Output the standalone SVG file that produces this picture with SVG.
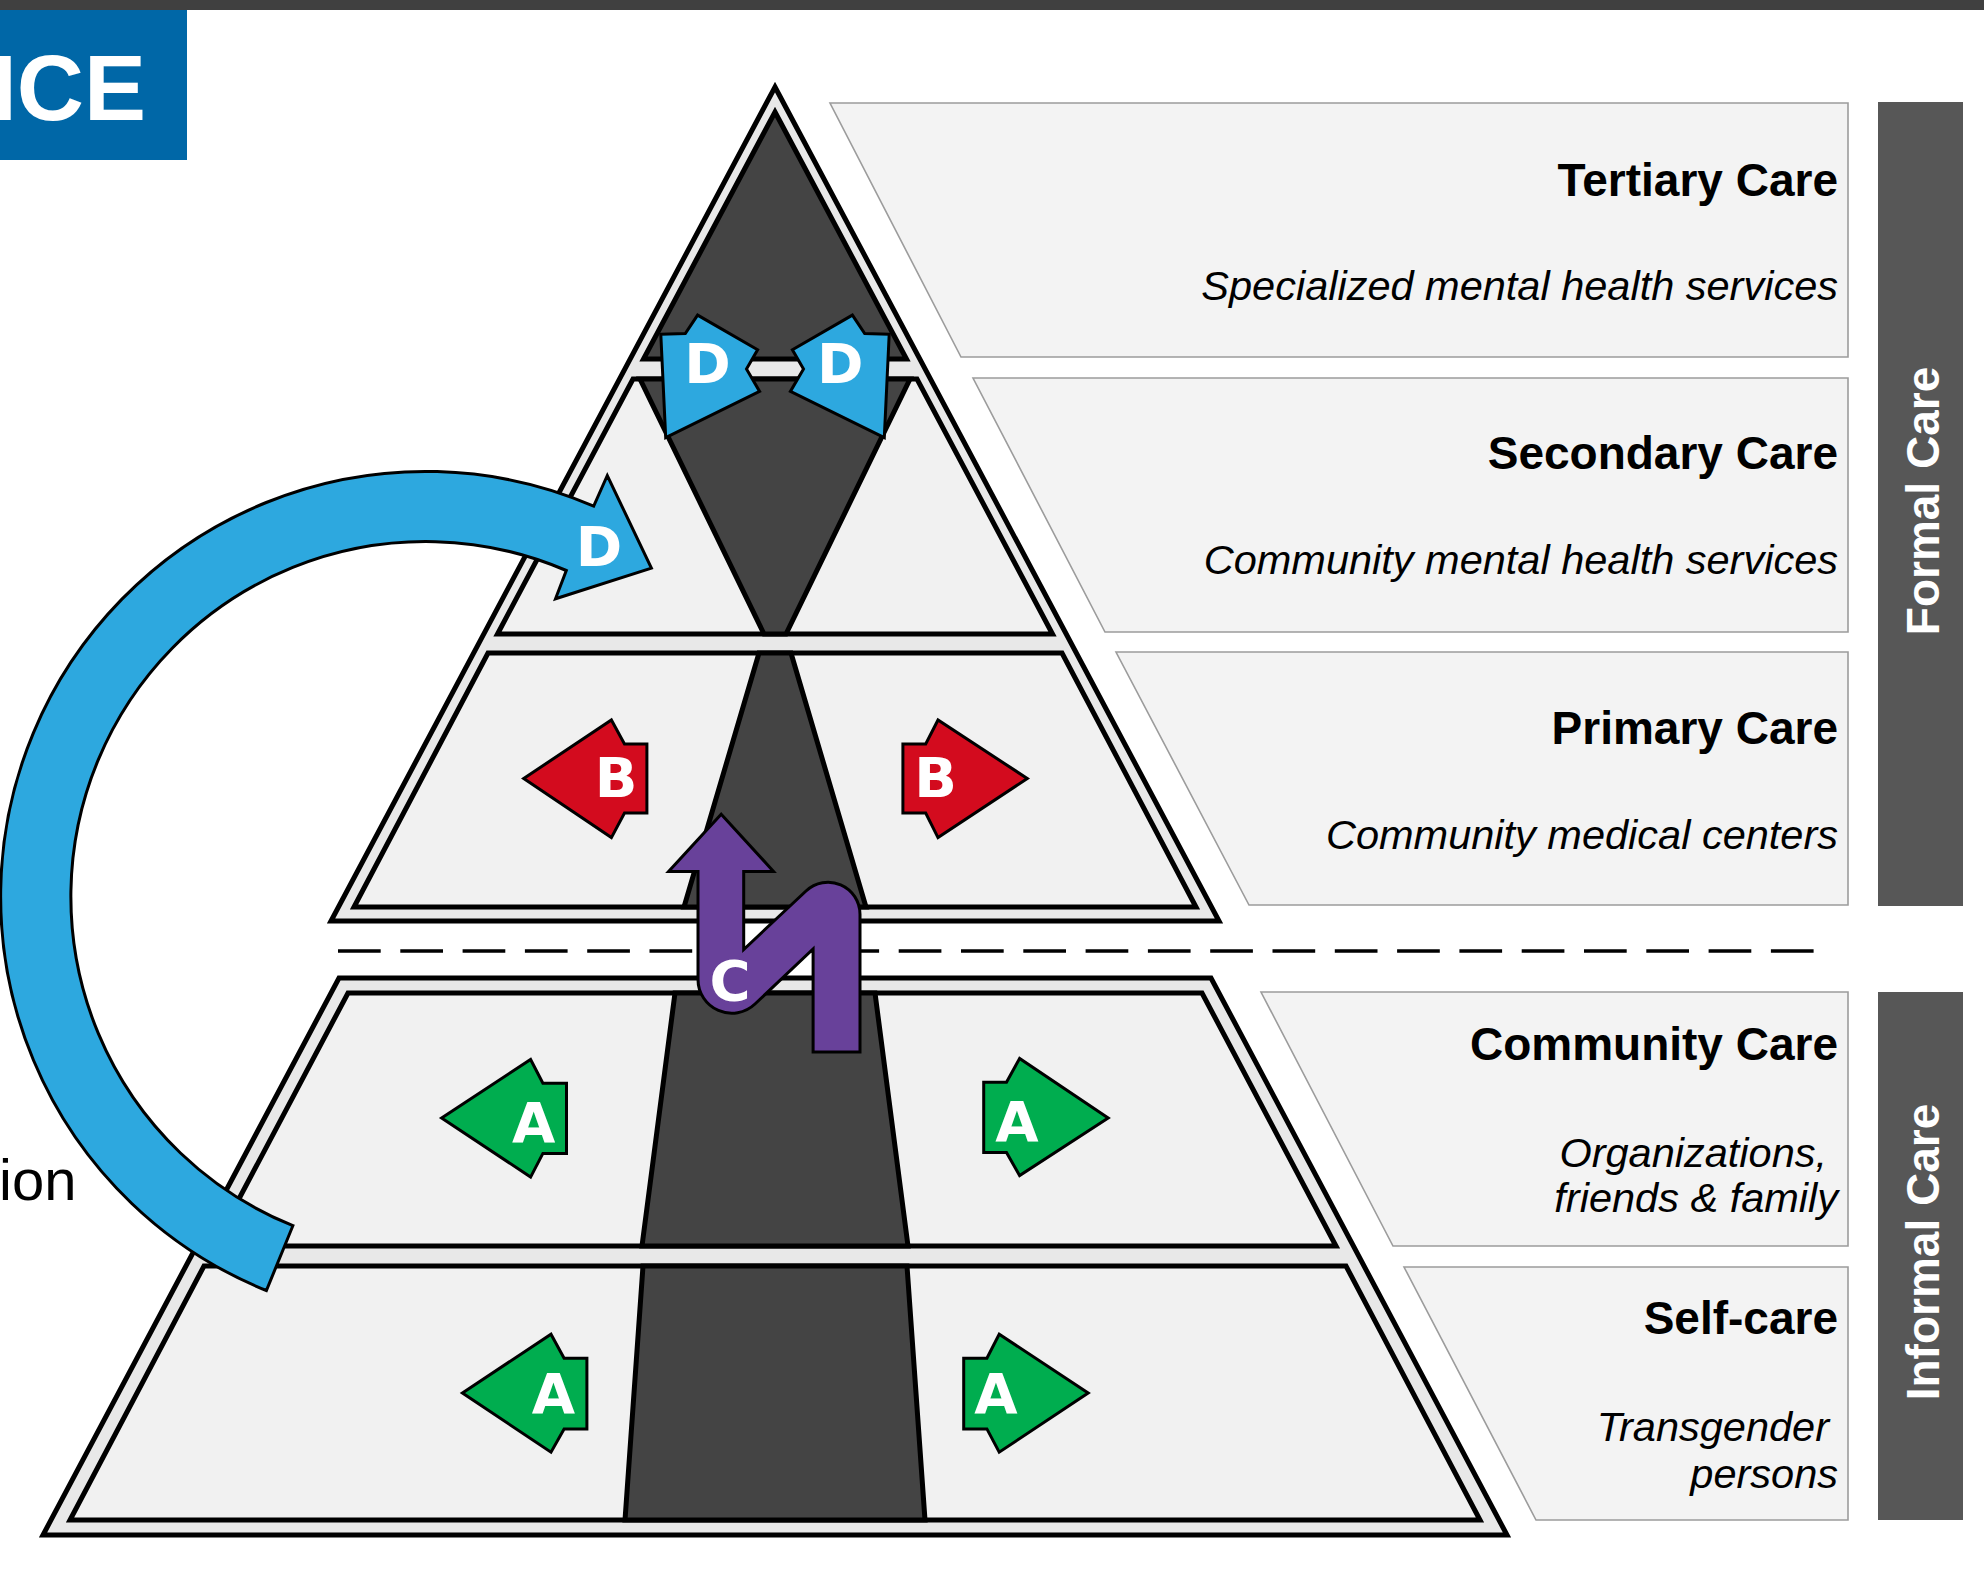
<svg xmlns="http://www.w3.org/2000/svg" width="1984" height="1573" viewBox="0 0 1984 1573">
<style>
.blk{stroke:#000;stroke-width:5;stroke-linejoin:miter;stroke-miterlimit:6}
.band{fill:#e8e8e8}
.lvl{fill:#f1f1f1}
.dark{fill:#444444}
.panel{fill:#f3f3f3;stroke:#9c9c9c;stroke-width:1.6}
.title{font-family:"Liberation Sans",Arial,sans-serif;font-weight:bold;font-size:46px;text-anchor:end;fill:#000}
.sub{font-family:"Liberation Sans",Arial,sans-serif;font-style:italic;font-size:41.5px;text-anchor:end;fill:#000}
.side{fill:#575757}
.sidetxt{font-family:"Liberation Sans",Arial,sans-serif;font-weight:bold;font-size:46px;text-anchor:middle;fill:#fff}
.arr{stroke:#000;stroke-width:3;stroke-linejoin:miter}
.lbl{font-family:"DejaVu Sans",sans-serif;font-weight:bold;font-size:56px;fill:#fff;text-anchor:middle}
.green{fill:#00ad4f}
.red{fill:#d30b1e}
.blue{fill:#2da8df}
.purple{fill:#68419a}
</style>

<rect x="0" y="0" width="1984" height="10" fill="#404040"/>

<g id="title-box">
<rect x="0" y="10" width="187" height="150" fill="#0067a7"/>
<text x="146" y="119.6" font-family="Liberation Sans, Arial, sans-serif" font-weight="bold" font-size="93" fill="#fff" text-anchor="end">NCE</text>
</g>

<g id="side-text">
<text x="-1" y="1200" font-family="Liberation Sans, Arial, sans-serif" font-size="58" fill="#000">ion</text>
</g>

<g id="pyramid-formal">
<polygon class="blk band" points="775,87 1219,921 331,921"/>
<polygon id="tertiary" class="blk dark" points="775,112 906.5,359 643.5,359"/>
<g id="secondary">
<polygon class="blk lvl" points="633,379 917,379 1052.5,634 497.5,634"/>
<polygon class="blk dark" points="640,379 910,379 786,634 764,634"/>
</g>
<g id="primary">
<polygon class="blk lvl" points="488,653 1062,653 1196,907 354,907"/>
<polygon class="blk dark" points="759,653 791,653 866,907 684,907"/>
</g>
</g>

<g id="pyramid-informal">
<polygon class="blk band" points="339,978 1211,978 1507,1535 43,1535"/>
<g id="community">
<polygon class="blk lvl" points="348,993 1202,993 1336,1246 214,1246"/>
<polygon class="blk dark" points="675,993 875,993 908,1246 642,1246"/>
</g>
<g id="selfcare">
<polygon class="blk lvl" points="204,1266 1346,1266 1480,1520 70,1520"/>
<polygon class="blk dark" points="643,1266 907,1266 925,1520 625,1520"/>
</g>
</g>

<g id="divider">
<line x1="338" y1="951" x2="1815" y2="951" stroke="#000" stroke-width="3.5" stroke-dasharray="42.7 19.6"/>
</g>

<g id="panels">
<g id="panel-tertiary">
<polygon class="panel" points="830,103 1848,103 1848,357 961,357"/>
<text class="title" x="1838" y="195.5">Tertiary Care</text>
<text class="sub" x="1838" y="299.5">Specialized mental health services</text>
</g>
<g id="panel-secondary">
<polygon class="panel" points="973,378 1848,378 1848,632 1105,632"/>
<text class="title" x="1838" y="468.5">Secondary Care</text>
<text class="sub" x="1838" y="574">Community mental health services</text>
</g>
<g id="panel-primary">
<polygon class="panel" points="1116,652 1848,652 1848,905 1249,905"/>
<text class="title" x="1838" y="744">Primary Care</text>
<text class="sub" x="1838" y="849">Community medical centers</text>
</g>
<g id="panel-community">
<polygon class="panel" points="1261,992 1848,992 1848,1246 1393,1246"/>
<text class="title" x="1838" y="1059.5">Community Care</text>
<text class="sub" x="1827" y="1166.5">Organizations,</text>
<text class="sub" x="1838" y="1211.5">friends &amp; family</text>
</g>
<g id="panel-selfcare">
<polygon class="panel" points="1404,1267 1848,1267 1848,1520 1536,1520"/>
<text class="title" x="1838" y="1333.5">Self-care</text>
<text class="sub" x="1829" y="1440.5">Transgender</text>
<text class="sub" x="1838" y="1487.5">persons</text>
</g>
</g>

<g id="formal-care">
<rect class="side" x="1878" y="102" width="85" height="804"/>
<text class="sidetxt" transform="translate(1939,501) rotate(-90)">Formal Care</text>
</g>
<g id="informal-care">
<rect class="side" x="1878" y="992" width="85" height="528"/>
<text class="sidetxt" transform="translate(1939,1252) rotate(-90)">Informal Care</text>
</g>

<g id="connectors">
<g id="arrow-D-curve">
<path class="arr blue" d="M 266.4,1290.5 A 425 425 0 1 1 593.7,506.1 L 607.3,475.5 L 651.4,568.2 L 555.5,598.8 L 566.3,570.5 A 355 355 0 1 0 292.9,1225.7 Z"/>
<text class="lbl" x="599" y="566">D</text>
</g>
<g id="arrow-D-left">
<polygon class="arr blue" points="660.8,334.3 685.3,333.5 697.6,315.1 757.6,349.8 746.5,369 759.6,391.4 665.7,437.6"/>
<text class="lbl" x="707.5" y="383">D</text>
</g>
<g id="arrow-D-right">
<polygon class="arr blue" points="889.2,334.3 864.7,333.5 852.4,315.1 792.4,349.8 803.5,369 790.4,391.4 884.3,437.6"/>
<text class="lbl" x="840.2" y="383">D</text>
</g>
<g id="arrow-B-left">
<polygon class="arr red" points="523.7,778.5 611.4,720 624.5,743.9 646.9,743.9 646.9,813.1 624.5,813.1 611.4,837.6"/>
<text class="lbl" x="616" y="797">B</text>
</g>
<g id="arrow-B-right">
<polygon class="arr red" points="1027.3,778.5 938,720 925.7,743.9 902.9,743.9 902.9,813.1 925.7,813.1 938,837.6"/>
<text class="lbl" x="935.7" y="797">B</text>
</g>
<g id="arrow-A-comm-left">
<polygon class="arr green" points="441.6,1117.9 530.6,1059.5 542.9,1083.2 566.5,1083.2 566.5,1153.4 542.9,1153.4 530.6,1177.1"/>
<text class="lbl" x="533.7" y="1142">A</text>
</g>
<g id="arrow-A-comm-right">
<polygon class="arr green" points="1108.2,1117.9 1019.6,1058.5 1006.5,1082.2 983.7,1082.2 983.7,1152.4 1006.5,1152.4 1019.6,1175.6"/>
<text class="lbl" x="1017" y="1141">A</text>
</g>
<g id="arrow-A-self-left">
<polygon class="arr green" points="462.4,1393 551,1334.2 564.1,1358.3 586.9,1358.3 586.9,1428.9 564.1,1428.9 551,1452.2"/>
<text class="lbl" x="553.5" y="1412.6">A</text>
</g>
<g id="arrow-A-self-right">
<polygon class="arr green" points="1088.2,1393 999.2,1334.2 986.9,1358.3 963.7,1358.3 963.7,1428.9 986.9,1428.9 999.2,1452.2"/>
<text class="lbl" x="995.8" y="1412.6">A</text>
</g>
<g id="arrow-C">
<path class="arr purple" d="M 721.2,814.3 L 773.5,871.4 L 743.7,871.4 L 743.7,949.5 L 806,891 A 32 32 0 0 1 860,914.3 L 860,1052 L 813.1,1052 L 813.1,949 L 755,1004 A 33.8 33.8 0 0 1 698,979.4 L 698,871.4 L 668.6,871.4 Z"/>
<text class="lbl" x="730" y="1000">C</text>
</g>
</g>
</svg>
